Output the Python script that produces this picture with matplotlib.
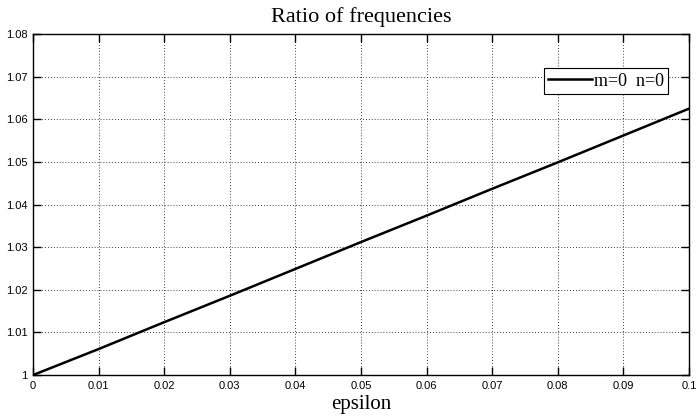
import matplotlib
matplotlib.use('Agg')
import matplotlib.pyplot as plt

# values
epsilon = [0.0, 0.01, 0.02, 0.03, 0.04, 0.05, 0.06, 0.07, 0.08, 0.09, 0.1]
ratio = [1.0, 1.0061, 1.0124, 1.0186, 1.0249, 1.0312, 1.0374, 1.0437, 1.0499, 1.0562, 1.0625]

x_ticks = [0, 0.01, 0.02, 0.03, 0.04, 0.05, 0.06, 0.07, 0.08, 0.09, 0.1]
x_labels = ['0', '0.01', '0.02', '0.03', '0.04', '0.05', '0.06', '0.07', '0.08', '0.09', '0.1']
y_ticks = [1.0, 1.01, 1.02, 1.03, 1.04, 1.05, 1.06, 1.07, 1.08]
y_labels = ['1', '1.01', '1.02', '1.03', '1.04', '1.05', '1.06', '1.07', '1.08']

fig = plt.figure(figsize=(6.96, 4.2), dpi=100)
ax = fig.add_axes([0.0474, 0.107, 0.9426, 0.812])

ax.plot(epsilon, ratio, color='black', linewidth=1.8, label='m=0  n=0')

ax.set_xlim(0, 0.1)
ax.set_ylim(1.0, 1.08)
ax.set_xticks(x_ticks)
ax.set_xticklabels(x_labels)
ax.set_yticks(y_ticks)
ax.set_yticklabels(y_labels)
ax.tick_params(direction='in', length=6, width=1, top=True, right=True,
               labelsize=8, pad=4)
for lab in ax.get_xticklabels() + ax.get_yticklabels():
    lab.set_family('Liberation Sans')
ax.grid(True, color='black', linestyle=(0, (1, 2.5)), linewidth=0.6)
for s in ax.spines.values():
    s.set_linewidth(1)

ax.set_title('Ratio of frequencies', family='Liberation Serif', fontsize=16, pad=9)
ax.set_xlabel('epsilon', family='Liberation Serif', fontsize=15, labelpad=3)

leg = ax.legend(loc='upper right', bbox_to_anchor=(0.968, 0.9), fancybox=False,
                framealpha=1, edgecolor='black', handlelength=2.4,
                prop={'family': 'Liberation Serif', 'size': 13},
                borderpad=0.25, handletextpad=0.1, borderaxespad=0)
leg.get_frame().set_linewidth(0.8)

fig.savefig('out.png', dpi=100)
